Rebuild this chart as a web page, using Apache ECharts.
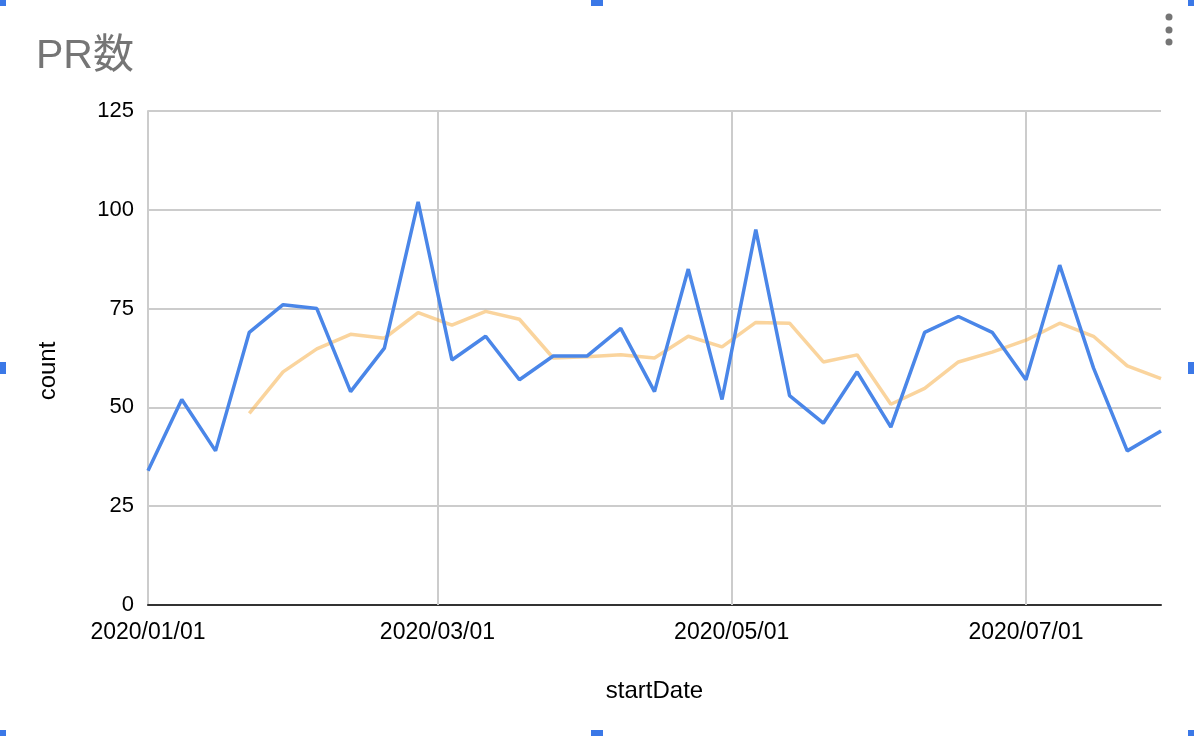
<!DOCTYPE html>
<html>
<head>
<meta charset="utf-8">
<script src="https://cdn.jsdelivr.net/npm/echarts@6/dist/echarts.min.js"></script>
<style>
html,body{margin:0;padding:0;background:#fff;}
#chart{width:1194px;height:736px;}
</style>
</head>
<body>
<div id="chart"></div>
<script>
// Weekly start dates
const dates = [
  '2020-01-01','2020-01-08','2020-01-15','2020-01-22','2020-01-29',
  '2020-02-05','2020-02-12','2020-02-19','2020-02-26','2020-03-04',
  '2020-03-11','2020-03-18','2020-03-25','2020-04-01','2020-04-08',
  '2020-04-15','2020-04-22','2020-04-29','2020-05-06','2020-05-13',
  '2020-05-20','2020-05-27','2020-06-03','2020-06-10','2020-06-17',
  '2020-06-24','2020-07-01','2020-07-08','2020-07-15','2020-07-22',
  '2020-07-29'
];
// PR count per week (blue)
const counts = [34,52,39,69,76,75,54,65,102,62,68,57,63,63,70,54,85,52,95,53,46,59,45,69,73,69,57,86,60,39,44];
// Moving-average trend (orange)
const trend = [null,null,null,48.5,59,64.8,68.5,67.5,74,70.8,74.3,72.3,62.5,62.8,63.3,62.5,68,65.3,71.5,71.3,61.5,63.3,50.8,54.8,61.5,64,67,71.3,68,60.5,57.3];
// X tick labels / vertical grid positions
const xTicks = ['2020-01-01','2020-03-01','2020-05-01','2020-07-01'];
const yTicks = [0,25,50,75,100,125];

const toTs = s => { const p = s.split('-').map(Number); return new Date(p[0], p[1]-1, p[2]).getTime(); };
const pad = n => (n < 10 ? '0' : '') + n;
const fmt = v => { const d = new Date(v); return d.getFullYear() + '/' + pad(d.getMonth()+1) + '/' + pad(d.getDate()); };
const FONT = "'Liberation Sans', Arial, 'Noto Sans CJK JP', sans-serif";

const chart = echarts.init(document.getElementById('chart'));
const handles = [[0,0],[597,0],[1194,0],[0,368],[1194,368],[0,736],[597,736],[1194,736]];

chart.setOption({
  animation: false,
  backgroundColor: '#fff',
  title: {
    text: 'PR数', left: 31, top: 31,
    textStyle: { fontFamily: FONT, fontSize: 41, fontWeight: 'normal', color: '#757575' }
  },
  grid: { left: 148, right: 33, top: 111, bottom: 131, containLabel: false },
  xAxis: {
    type: 'value',
    min: toTs(dates[0]), max: toTs(dates[dates.length-1]),
    name: 'startDate', nameLocation: 'middle', nameGap: 74,
    nameTextStyle: { fontFamily: FONT, fontSize: 24, color: '#000' },
    axisLine: { show: true, lineStyle: { color: '#333', width: 2 } },
    axisTick: { show: false },
    splitLine: { show: false },
    axisLabel: {
      customValues: xTicks.map(toTs),
      showMinLabel: true, showMaxLabel: true,
      margin: 16,
      fontFamily: FONT, fontSize: 23, color: '#000',
      formatter: v => fmt(v)
    }
  },
  yAxis: {
    type: 'value', min: yTicks[0], max: yTicks[yTicks.length-1], interval: 25,
    name: 'count', nameLocation: 'middle', nameGap: 88,
    nameTextStyle: { fontFamily: FONT, fontSize: 24, color: '#000', padding: [0, 26, 0, 0] },
    axisLine: { show: true, lineStyle: { color: '#ccc', width: 2 } },
    axisTick: { show: false },
    splitLine: { show: true, lineStyle: { color: '#ccc', width: 2 } },
    axisLabel: { margin: 14, fontFamily: FONT, fontSize: 22, color: '#000' }
  },
  series: [
    {
      name: 'trend', type: 'line', z: 2, symbol: 'none', smooth: false,
      data: dates.map((d, i) => [toTs(d), trend[i]]),
      lineStyle: { color: 'rgba(245,170,60,0.5)', width: 3.5 },
      itemStyle: { color: 'rgba(245,170,60,0.5)' },
      markLine: {
        silent: true, symbol: 'none', label: { show: false }, z: 1,
        lineStyle: { color: '#ccc', width: 2, type: 'solid' },
        data: xTicks.slice(1).map(d => ({ xAxis: toTs(d) }))
      }
    },
    {
      name: 'count', type: 'line', z: 3, symbol: 'none', smooth: false,
      data: dates.map((d, i) => [toTs(d), counts[i]]),
      lineStyle: { color: '#4a86e8', width: 3.5 },
      itemStyle: { color: '#4a86e8' }
    }
  ],
  graphic: [
    ...[17, 30, 42].map(y => ({ type: 'circle', shape: { cx: 1169, cy: y, r: 3.5 }, style: { fill: '#757575' }, silent: true })),
    ...handles.map(([x, y]) => ({ type: 'rect', shape: { x: x - 6, y: y - 6, width: 12, height: 12 }, style: { fill: '#3b78e7' }, silent: true }))
  ]
});
</script>
</body>
</html>
